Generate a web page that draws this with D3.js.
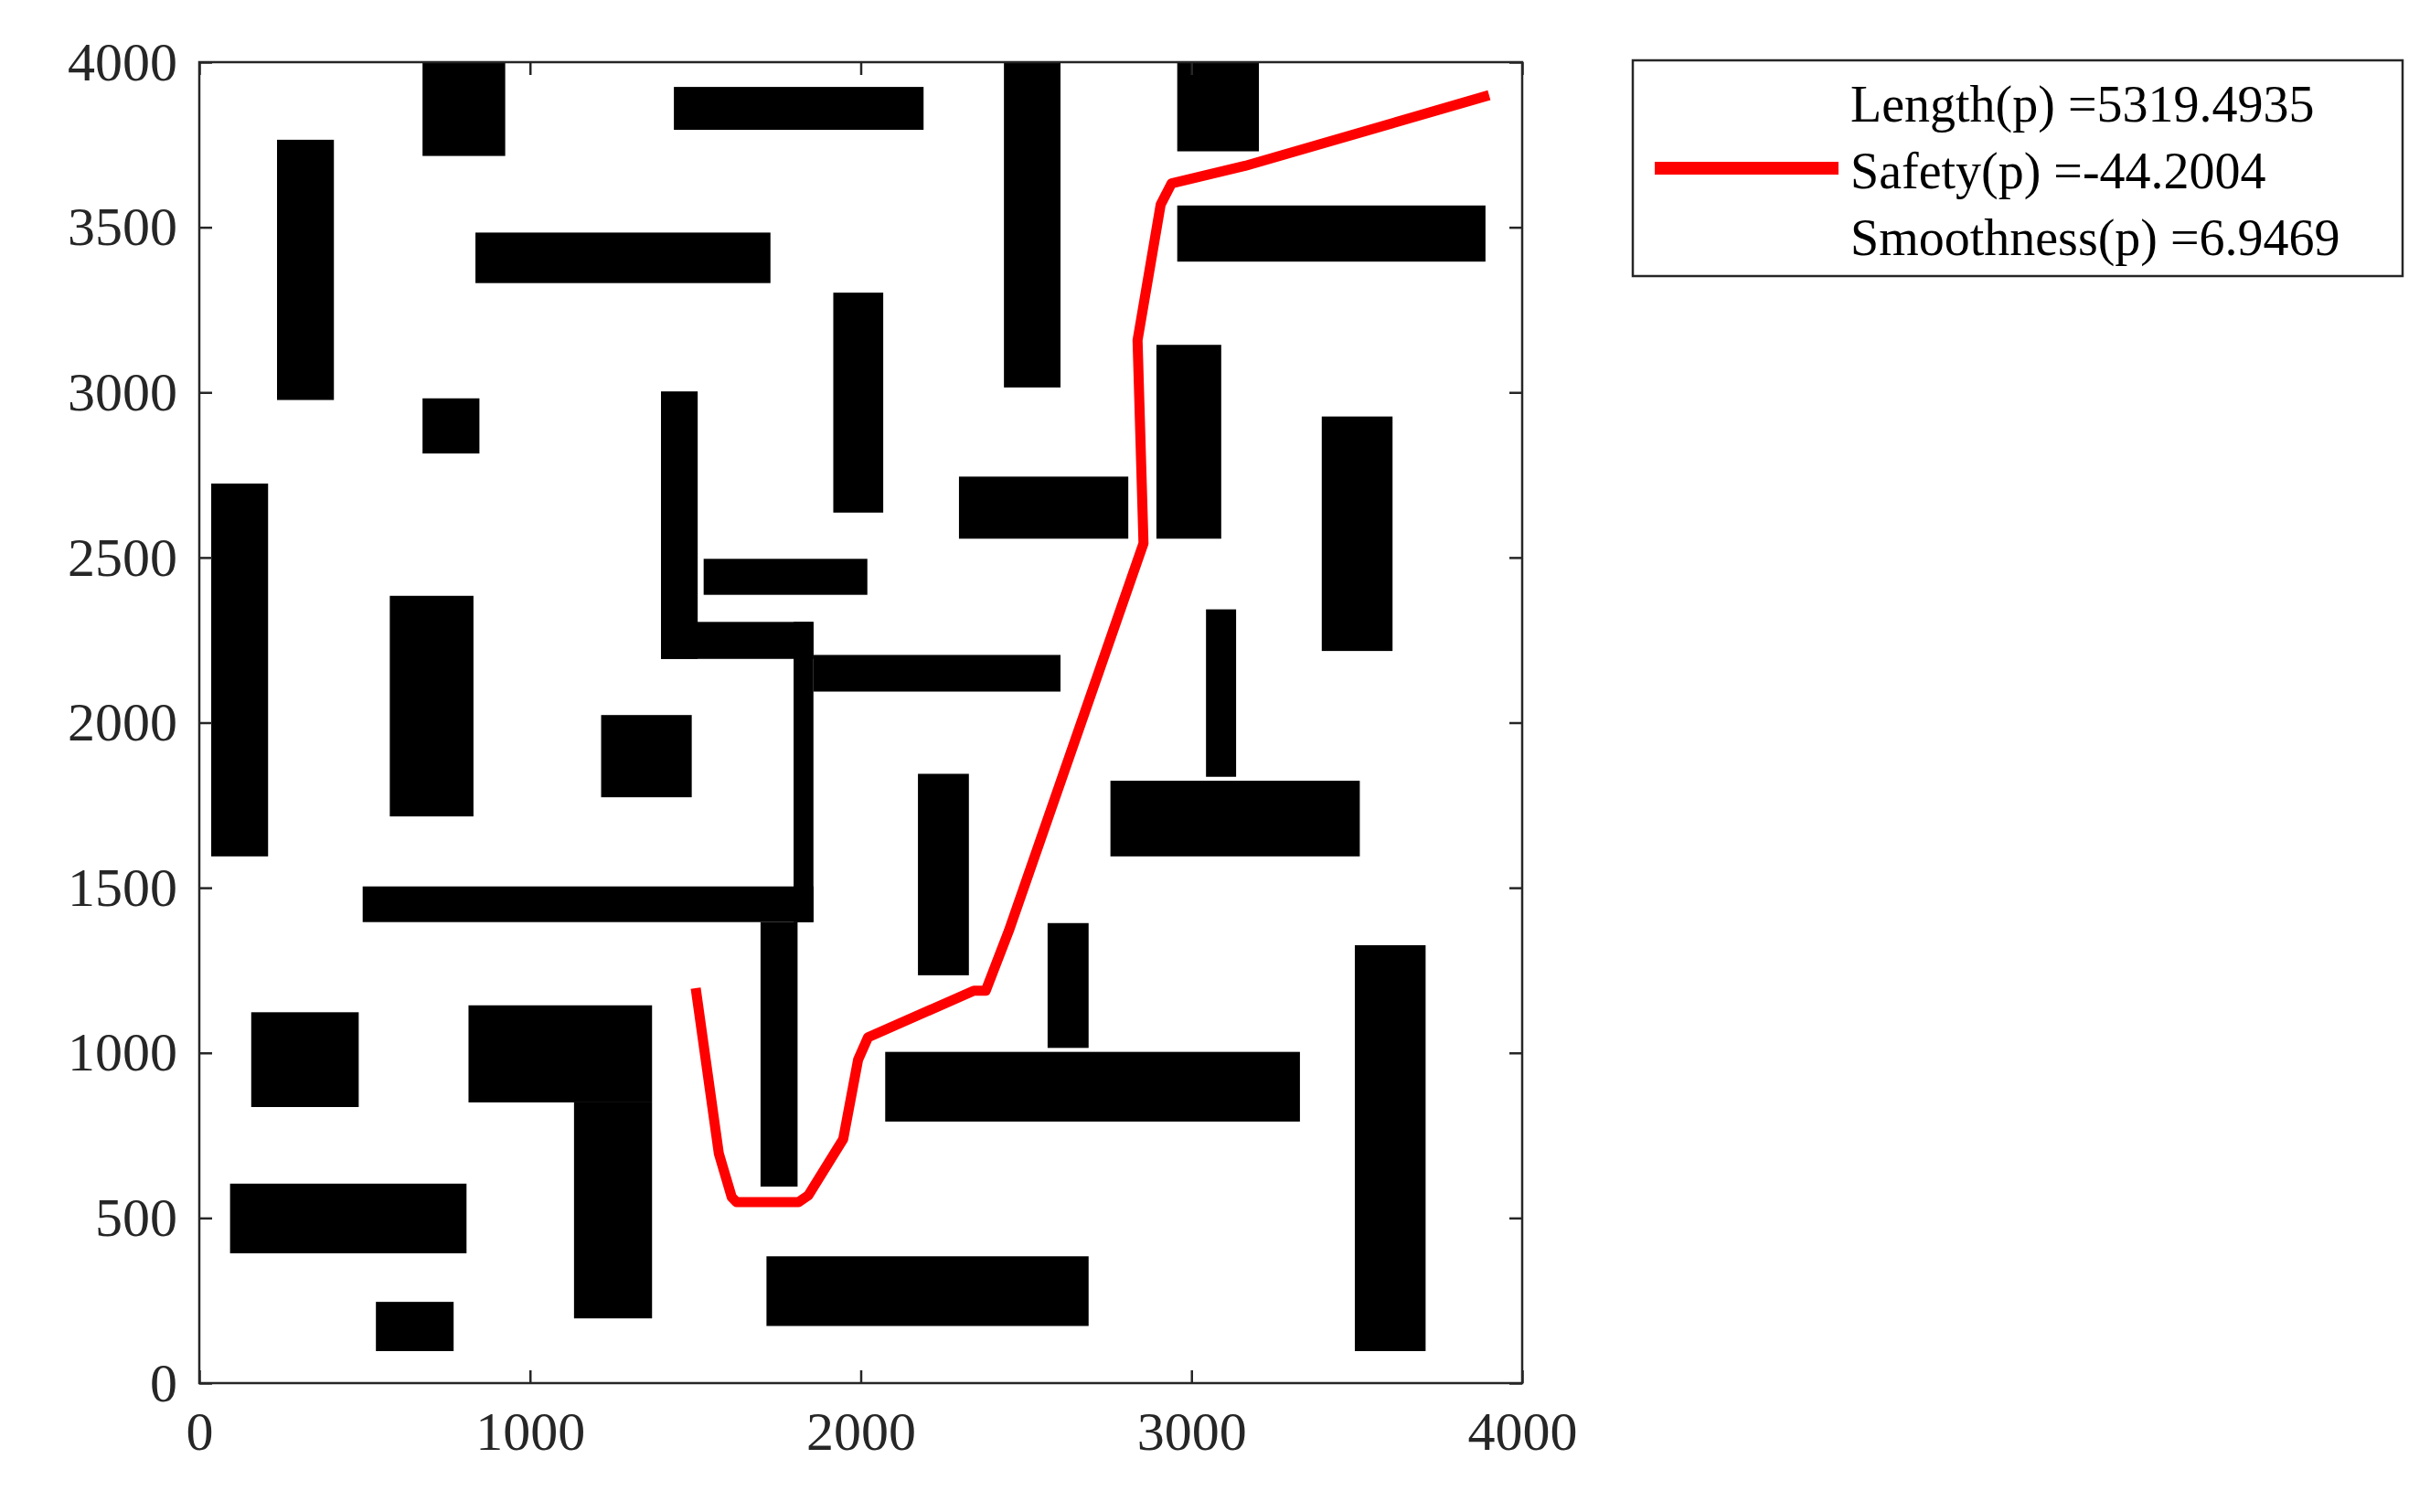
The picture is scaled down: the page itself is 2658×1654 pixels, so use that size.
<!DOCTYPE html>
<html><head><meta charset="utf-8">
<script src="https://cdn.jsdelivr.net/npm/d3@7"></script>
<style>body{margin:0;background:#fff}</style></head>
<body><svg id="c" width="2658" height="1654"></svg>
<script>
// obstacles: [x0, x1, y0, y1]
const obstacles = [
[675,925,3716,4000],[1435,2190,3795,3925],[2433,2604,3015,4000],[2957,3204,3730,4000],
[235,407,2977,3765],[835,1727,3331,3484],[2957,3889,3396,3566],[1917,2068,2636,3302],
[675,847,2815,2982],[1396,1507,2193,3003],[1396,1857,2193,2305],[1797,1857,1396,2305],
[1857,2604,2094,2205],[1525,2020,2387,2496],[2297,2809,2557,2745],[2894,3090,2557,3144],
[3394,3608,2217,2927],[36,208,1595,2724],[576,829,1716,2384],[1215,1489,1774,2023],
[3044,3135,1836,2343],[2755,3509,1595,1824],[2173,2327,1235,1845],[494,1857,1396,1504],
[1697,1809,595,1396],[2565,2689,1015,1393],[3494,3708,97,1326],[157,482,836,1123],
[814,1369,850,1144],[1133,1369,196,850],[2074,3328,792,1003],[93,808,393,604],
[534,769,97,246],[1715,2689,173,384]];
const pathX = [1501,1571,1610,1625,1812,1842,1947,1992,2022,2342,2378,2448,2855,2837,2907,2940,3162,3900];
const pathY = [1196,695,563,548,548,569,739,979,1047,1188,1188,1370,2543,3158,3569,3633,3686,3900];
const ticks = [0,500,1000,1500,2000,2500,3000,3500,4000];
const xticks = [0,1000,2000,3000,4000];
const legendLines = ["Length(p) =5319.4935","Safety(p) =-44.2004","Smoothness(p) =6.9469"];

const svg = d3.select("#c");
const L=218,R=1665,T=68,B=1513;
const x = d3.scaleLinear().domain([0,4000]).range([L,R]);
const y = d3.scaleLinear().domain([0,4000]).range([B,T]);
const font = "'Liberation Serif','Times New Roman',serif";

svg.append("g").selectAll("rect").data(obstacles).join("rect")
 .attr("x",d=>x(d[0])).attr("width",d=>x(d[1])-x(d[0]))
 .attr("y",d=>y(d[3])).attr("height",d=>y(d[2])-y(d[3])).attr("fill","#000");

svg.append("path").datum(pathX.map((v,i)=>[v,pathY[i]]))
 .attr("d",d3.line().x(d=>x(d[0])).y(d=>y(d[1])))
 .attr("fill","none").attr("stroke","#ff0000").attr("stroke-width",11).attr("stroke-linejoin","round");

function styleAxis(g){
  g.select(".domain").remove();
  g.selectAll("line").attr("stroke","#262626").attr("stroke-width",2.5);
  g.selectAll("text").attr("font-family",font).attr("font-size",60).attr("fill","#262626");
}
svg.append("g").attr("transform",`translate(0,${B})`)
 .call(d3.axisBottom(x).tickValues(xticks).tickSize(-14).tickPadding(30).tickFormat(d3.format("d"))).call(styleAxis);
svg.append("g").attr("transform",`translate(0,${T})`)
 .call(d3.axisTop(x).tickValues(xticks).tickSize(-14).tickFormat("")).call(styleAxis);
svg.append("g").attr("transform",`translate(${L},0)`)
 .call(d3.axisLeft(y).tickValues(ticks).tickSize(-14).tickPadding(24).tickFormat(d3.format("d"))).call(styleAxis);
svg.append("g").attr("transform",`translate(${R},0)`)
 .call(d3.axisRight(y).tickValues(ticks).tickSize(-14).tickFormat("")).call(styleAxis);
svg.append("rect").attr("x",L).attr("y",T).attr("width",R-L).attr("height",B-T)
 .attr("fill","none").attr("stroke","#262626").attr("stroke-width",2.5);

const lg = svg.append("g");
lg.append("rect").attr("x",1786).attr("y",66).attr("width",842).attr("height",236)
 .attr("fill","#fff").attr("stroke","#262626").attr("stroke-width",2.5);
lg.append("line").attr("x1",1810).attr("x2",2011).attr("y1",184).attr("y2",184)
 .attr("stroke","#ff0000").attr("stroke-width",14);
lg.selectAll("text").data(legendLines).join("text")
 .attr("x",2024).attr("y",(d,i)=>133+i*73)
 .attr("font-family",font).attr("font-size",56).attr("fill","#000").text(d=>d);
</script></body></html>
